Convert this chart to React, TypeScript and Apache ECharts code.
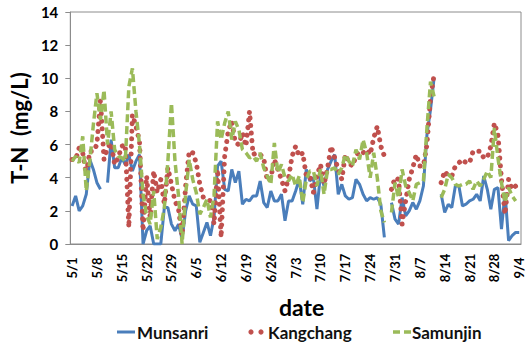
import React, { useEffect, useRef } from "react";
import * as echarts from "echarts";

const START_YEAR = 2013;
const DAY_COUNT = 127;

// T-N (mg/L) daily values from 5/1 to 9/4; null = no data
const munsanri: (number | null)[] = [
  2.3, 2.9, 2.0, 2.3, 3.0, 5.1, 4.5, 3.7, 3.3, null,
  3.7, 6.3, 4.6, 4.6, 5.2, 4.8, 5.4, 4.4, 5.0, 5.4,
  0.0, 0.8, 1.1, 0.0, 0.0, 0.0, 2.2, 2.2, 1.2, 0.8,
  1.2, 0.3, 2.0, 2.9, 2.4, 2.3, 0.1, 0.7, 1.3, 0.5,
  1.6, 4.7, 5.0, 3.3, 3.2, 4.5, 3.7, 4.4, 2.4, 2.7,
  2.6, 2.9, 2.9, 3.8, 2.5, 2.2, 3.2, 2.6, 2.6, 3.0,
  1.4, 2.6, 2.6, 3.2, 3.9, 2.4, 4.5, 3.8, 4.0, 2.1,
  4.2, 3.5, 4.5, 5.0, 5.4, 3.0, 3.6, 2.9, 2.7, 2.8,
  3.9, 3.6, 3.0, 2.6, 2.8, 2.7, 2.8, 2.4, 0.4, null,
  2.5, 1.5, 1.2, 2.8, 1.7, 2.0, 2.5, 2.1, 2.6, 3.5,
  6.6, 8.1, 10.0, null, 3.0, 1.9, 2.4, 2.2, 3.5, 3.5,
  2.3, 2.4, 2.6, 2.7, 3.0, 2.6, 4.1, 3.3, 2.1, 3.3,
  3.4, 0.9, 3.1, 0.2, 0.5, 0.7, 0.7,
];

const kangchang: (number | null)[] = [
  5.1, 5.1, 5.8, 5.5, 4.2, 5.6, 5.6, 6.0, 8.7, 5.1,
  5.8, 6.1, 4.8, 5.2, 5.9, 6.0, 1.0, 7.8, 7.1, 6.2,
  0.8, 4.1, 1.6, 4.4, 3.1, 3.9, 2.4, 4.6, 3.6, 2.6,
  2.1, 0.5, 3.5, 5.6, 5.5, 4.9, 3.6, 2.8, 2.7, 2.6,
  1.2, 4.5, 0.4, 5.3, 6.8, 7.4, 6.1, 6.0, 6.7, 5.9,
  8.0, 5.4, 5.5, 5.4, 5.2, 3.8, 4.0, 5.1, 4.5, 3.9,
  3.2, 4.0, 5.3, 5.9, 5.3, 5.5, 4.1, 4.1, 3.1, 4.1,
  4.8, 3.6, 4.6, 5.9, 5.2, 4.5, 3.9, 5.4, 4.9, 4.7,
  5.3, 5.6, 5.5, 5.7, 5.4, 6.4, 7.1, 5.9, 5.3, null,
  3.3, 4.0, 3.9, 1.2, 2.6, 3.9, 4.6, 5.4, 4.7, 4.7,
  6.0, 8.8, 10.2, null, 3.7, 4.4, 4.1, 4.1, 4.7, 4.9,
  5.1, 4.9, 4.9, 5.6, 5.6, 5.6, 5.2, 5.2, 5.9, 7.3,
  6.6, 3.9, 1.8, 3.9, 3.3, 3.5, null,
];

const samunjin: (number | null)[] = [
  5.0, 5.3, 4.9, 6.5, 3.2, 5.0, 7.2, 9.1, 7.5, 9.3,
  6.0, 8.0, 5.7, 5.3, 5.2, 5.0, 9.5, 10.6, 8.0, 6.0,
  3.0, 1.7, 1.2, 3.2, 0.3, 1.0, 2.2, 5.0, 8.5, 5.0,
  2.9, 0.0, 3.0, 5.1, 3.9, 3.1, 1.8, 2.2, 2.7, 1.6,
  2.9, 7.4, 6.3, 7.3, 8.0, 6.3, 7.4, 6.9, 5.7, 5.5,
  5.2, 5.3, 5.0, 5.5, 4.6, 4.1, 3.6, 6.1, 4.3, 4.8,
  4.0, 3.8, 4.2, 3.5, 4.1, 2.5, 3.9, 4.4, 4.4, 3.5,
  4.5, 3.0, 4.5, 4.5, 4.6, 4.2, 4.6, 5.4, 5.0, 4.7,
  5.7, 5.1, 6.3, 5.5, 4.0, 5.5, 4.0, 2.0, 1.3, null,
  1.9, 3.7, 2.8, 4.5, 3.5, 3.1, 2.6, 3.6, 3.7, 3.8,
  7.0, 9.8, 8.9, null, 2.8, 3.3, 4.2, 4.0, 3.6, 3.5,
  3.6, 3.6, 3.8, 3.3, 3.8, 3.5, 3.9, 4.4, 4.0, 7.0,
  5.2, 3.7, 2.5, 3.4, 2.9, 2.6, null,
];

const seriesNames = ["Munsanri", "Kangchang", "Samunjin"];
const seriesColors = ["#4a7ebb", "#c0504d", "#9bbb59"];
const yTicks = { min: 0, max: 14, interval: 2 };

function buildDates(): string[] {
  const out: string[] = [];
  const base = Date.UTC(START_YEAR, 4, 1);
  for (let i = 0; i < DAY_COUNT; i++) {
    const d = new Date(base + i * 86400000);
    out.push(`${d.getUTCMonth() + 1}/${d.getUTCDate()}`);
  }
  return out;
}

const FONT = "Lato, 'Open Sans', sans-serif";
const LEGEND_Y = 332;

function legendText(name: string, x: number) {
  return {
    type: "text",
    x,
    y: LEGEND_Y,
    style: {
      text: name,
      fill: "#111",
      fontFamily: "Lato",
      fontSize: 17,
      fontWeight: "bold",
      verticalAlign: "middle",
      align: "left",
    },
  };
}

export default function App() {
  const ref = useRef<HTMLDivElement>(null);
  useEffect(() => {
    if (!ref.current) return;
    document.body.style.margin = "0";
    const chart = echarts.init(ref.current, undefined, { renderer: "svg" });
    const dates = buildDates();
    chart.setOption({
      animation: false,
      backgroundColor: "#ffffff",
      textStyle: { fontFamily: FONT },
      grid: {
        left: 68,
        right: 10,
        top: 12,
        bottom: 99,
        show: true,
        borderColor: "#8c8c8c",
        borderWidth: 1,
      },
      graphic: [
        {
          type: "line",
          shape: { x1: 117, y1: LEGEND_Y, x2: 135, y2: LEGEND_Y },
          style: { stroke: seriesColors[0], lineWidth: 3 },
        },
        legendText(seriesNames[0], 137),
        { type: "circle", shape: { cx: 251, cy: LEGEND_Y, r: 2.6 }, style: { fill: seriesColors[1] } },
        { type: "circle", shape: { cx: 261, cy: LEGEND_Y, r: 2.6 }, style: { fill: seriesColors[1] } },
        legendText(seriesNames[1], 268),
        {
          type: "line",
          shape: { x1: 393, y1: LEGEND_Y, x2: 411, y2: LEGEND_Y },
          style: { stroke: seriesColors[2], lineWidth: 3.5, lineDash: [7, 4] },
        },
        legendText(seriesNames[2], 412),
      ],
      xAxis: {
        type: "category",
        data: dates,
        boundaryGap: true,
        axisLine: { lineStyle: { color: "#8c8c8c", width: 1 } },
        axisTick: { show: false },
        axisLabel: {
          interval: 6,
          rotate: 90,
          align: "center",
          verticalAlign: "middle",
          margin: 24,
          showMaxLabel: true,
          fontFamily: FONT,
          fontSize: 13,
          fontWeight: "bold",
          color: "#000",
        },
        name: "date",
        nameLocation: "middle",
        nameGap: 51,
        nameTextStyle: { fontFamily: FONT, fontSize: 23, fontWeight: "bold", color: "#000", padding: [0, 0, 0, 12] },
      },
      yAxis: {
        type: "value",
        min: yTicks.min,
        max: yTicks.max,
        interval: yTicks.interval,
        axisLine: { show: true, lineStyle: { color: "#8c8c8c", width: 1 } },
        axisTick: { show: true, length: 5, lineStyle: { color: "#8c8c8c" } },
        splitLine: { show: false },
        axisLabel: { margin: 12, fontFamily: FONT, fontSize: 15, fontWeight: "bold", color: "#000" },
        name: "T-N  (mg/L)",
        nameLocation: "middle",
        nameGap: 31,
        nameRotate: 90,
        nameTextStyle: { fontFamily: FONT, fontSize: 22, fontWeight: "bold", color: "#000" },
      },
      series: [
        {
          name: seriesNames[0],
          type: "line",
          data: munsanri,
          showSymbol: false,
          symbol: "none",
          connectNulls: false,
          color: seriesColors[0],
          lineStyle: { color: seriesColors[0], width: 3 },
        },
        {
          name: seriesNames[1],
          type: "line",
          data: kangchang,
          showSymbol: false,
          symbol: "none",
          connectNulls: false,
          color: seriesColors[1],
          lineStyle: { color: seriesColors[1], width: 5, type: [0.1, 7.5], cap: "round" },
        },
        {
          name: seriesNames[2],
          type: "line",
          data: samunjin,
          showSymbol: false,
          symbol: "none",
          connectNulls: false,
          color: seriesColors[2],
          lineStyle: { color: seriesColors[2], width: 3.5, type: [8, 4] },
        },
      ],
    });
    return () => chart.dispose();
  }, []);
  return (
    <div
      ref={ref}
      style={{ position: "absolute", left: 0, top: 0, width: 531, height: 343 }}
    />
  );
}
